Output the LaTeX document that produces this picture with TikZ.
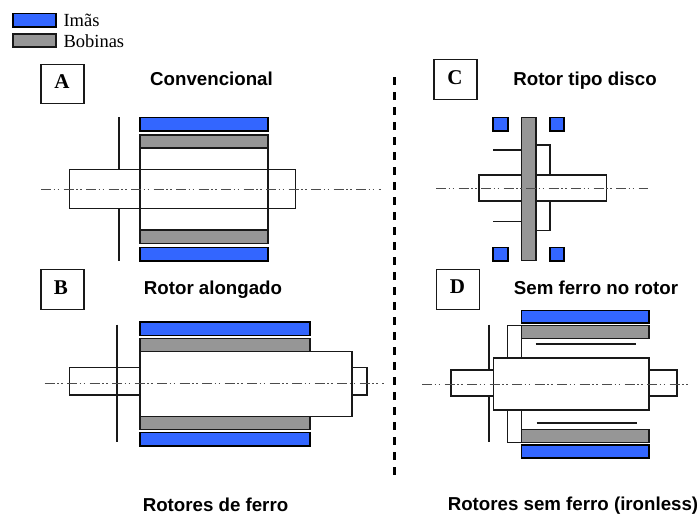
\documentclass[tikz,border=0pt]{standalone}
\usepackage{fontspec}
\setmainfont{Liberation Serif}
\setsansfont{Liberation Sans}
\usepackage{tikz}
\usetikzlibrary{positioning}
\definecolor{imablue}{HTML}{3366FF}
\definecolor{bobgray}{HTML}{969696}

\begin{document}
\begin{tikzpicture}[x=1pt,y=-1pt,line width=1.1pt,inner sep=0pt]
\tikzstyle{ima}=[draw=black,fill=imablue]
\tikzstyle{bob}=[draw=black!90,fill=bobgray]
\tikzstyle{part}=[draw=black!90,fill=white]
\tikzstyle{bare}=[draw=black!90]
\tikzstyle{axis}=[draw=black!70,line width=1pt,dash pattern=on 10pt off 2.5pt on 1.5pt off 2.5pt on 1.5pt off 4.5pt]
\tikzstyle{tag}=[rectangle,draw=black!90,fill=white,minimum width=43pt,minimum height=39.5pt]
\tikzstyle{letter}=[font=\fontsize{21}{23}\selectfont\bfseries]
\tikzstyle{title}=[font=\fontsize{18.7}{21}\sffamily\bfseries,anchor=base]
\tikzstyle{key}=[font=\fontsize{18.5}{20}\selectfont,anchor=base west]
\useasboundingbox (0,0) rectangle (699,514);
\fill[white] (0,0) rectangle (699,514);
\draw[ima] (13,13.5) rectangle (56,27);
\draw[bob] (13,34) rectangle (56,47);
\node[key] (imas) at (63,27) {Imãs};
\node[key] (bobinas) at (63,47) {Bobinas};
\node[tag] (a) at (62.5,84) {};
\node[tag] (b) at (62.5,289.5) {};
\node[tag] (c) at (455.5,79.5) {};
\node[tag] (d) at (458,289.5) {};
\node[letter] (la) at (62,82) {A};
\node[letter] (lb) at (61,288) {B};
\node[letter] (lc) at (455,78) {C};
\node[letter] (ld) at (457.5,287) {D};
\node[title] (ta) at (211.5,85.5) {Convencional};
\node[title] (tb) at (213,294.5) {Rotor alongado};
\node[title] (tc) at (585,85.5) {Rotor tipo disco};
\node[title] (td) at (596,294) {Sem ferro no rotor};
\node[title] (te) at (215.5,511) {Rotores de ferro};
\node[title] (tf) at (573,510) {Rotores sem ferro (ironless)};
\draw[line width=2.4pt,dash pattern=on 7.5pt off 7.5pt] (394.5,77) -- (394.5,480);
\draw[bare] (119,117) -- (119,261);
\draw[part] (69.5,169.5) rectangle (295.5,208.5);
\draw[bare] (140,148) rectangle (268,230);
\draw[ima] (140,117.5) rectangle (268,131);
\draw[bob] (140,135) rectangle (268,148);
\draw[bob] (140,230) rectangle (268,243.5);
\draw[ima] (140,247.5) rectangle (268,261);
\draw[axis] (41,189) -- (381,189);
\draw[bare] (69.5,367.5) rectangle (367,395);
\draw[bare] (117,324.5) -- (117,441.5);
\draw[part] (140,351.5) rectangle (352,416.5);
\draw[ima] (140,322) rectangle (310,335.5);
\draw[bob] (140,338.5) rectangle (310,351.5);
\draw[bob] (140,416.5) rectangle (310,429.5);
\draw[ima] (140,432.5) rectangle (310,446);
\draw[axis] (44.5,383) -- (384,383);
\draw[bare] (493,150) -- (521.5,150);
\draw[bare] (493,221.5) -- (521.5,221.5);
\draw[bare] (536,145) -- (550,145) -- (550,175);
\draw[bare] (550,201) -- (550,230.5) -- (536,230.5);
\draw[part] (479,175) rectangle (606.5,201);
\draw[bob] (521.5,117.5) rectangle (536,260.5);
\draw[ima] (493,117.5) rectangle (508,131);
\draw[ima] (550,117.5) rectangle (564,131);
\draw[ima] (493,247.5) rectangle (508,261);
\draw[ima] (550,247.5) rectangle (564,261);
\draw[axis] (436,188) -- (648,188);
\draw[bare] (489,324.5) -- (489,370);
\draw[bare] (489,396) -- (489,441.5);
\draw[part] (451,370) rectangle (677,396);
\draw[bare] (521.5,325.5) -- (507.5,325.5) -- (507.5,358);
\draw[bare] (521.5,325.5) -- (521.5,358);
\draw[bare] (521.5,442.5) -- (507.5,442.5) -- (507.5,410);
\draw[bare] (521.5,442.5) -- (521.5,410);
\draw[part] (493.5,358) rectangle (649,410);
\draw[ima] (521.5,310.5) rectangle (649,323);
\draw[bob] (521.5,325.5) rectangle (649,338.5);
\draw[bare] (535.5,344) -- (635.5,344);
\draw[bare] (536.5,423) -- (636.5,423);
\draw[bob] (521.5,429.5) rectangle (649,442.5);
\draw[ima] (521.5,445) rectangle (649,458);
\draw[axis] (422,384) -- (689,384);
\end{tikzpicture}
\end{document}
